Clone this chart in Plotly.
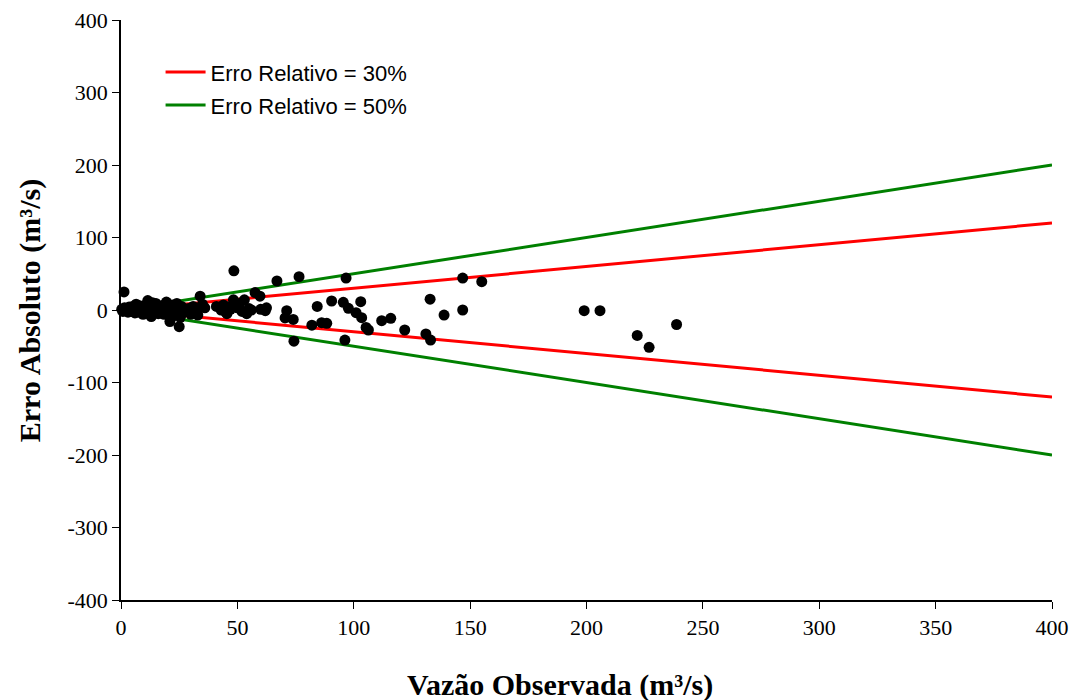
import plotly.graph_objects as go

vazao = [0.3, 0.8, 1.3, 1.5, 2, 2.5, 3, 3.5, 4, 4.5, 5, 5.5, 6, 6.5, 7, 7.5, 8, 8.5, 9, 9.5,
         10, 10.5, 11, 11.5, 12, 12.5, 13, 13.5, 14, 14.5, 15, 15.5, 16, 16.5, 17, 17.5, 18, 18.5,
         19, 19.5, 20, 20.5, 21, 21.5, 22, 22.5, 23, 23.5, 24, 24.5, 25, 25.5, 26, 27, 28, 29,
         30, 31, 32, 33, 34, 35, 36,
         41, 43, 44, 45, 45.5, 46, 47, 48.3, 48.5, 49, 50, 51, 52, 53, 54, 55, 56, 57.6, 59.7, 60, 62, 62.5,
         67, 70.5, 71.2, 74, 74.3, 76.5, 82, 84.3, 86.2, 88.4, 90.5, 95.5, 96.2, 96.7, 97.7, 101,
         103, 103.4, 105.3, 106.3, 112, 115.9, 121.9, 131, 132.8, 133, 138.8, 146.8, 146.8, 155,
         199, 205.8, 221.8, 226.9, 238.7]
erro = [1, -2, 25, 3, -1, 2, -3, 4, 0, -2, 5, 1, -4, 8, 2, -3, 6, -1, 3, -6,
        2, -4, 8, 13, 4, -2, -9, 10, 5, -3, 9, 1, -5, 3, -2, 6, -1, -6,
        2, 11, -4, 4, -16, -2, 7, -8, 1, -5, 9, 3, -23, -10, 5, -3, -2, 2,
        -6, 5, -1, -7, 19, 8, 3,
        5, 0, 7, -3, -5, 4, 1, 14, 54, 9, 3, 9, -2, 14, -5, 2, 0, 24, 19, 1, -1, 3,
        40, -11, -1, -13, -43, 46, -21, 5, -17.5, -18.4, 12.4, 10.6, -41.4, 44, 2.3, -3.7,
        11.5, -10.6, -24, -27.6, -14.7, -11.5, -27.6, -33, 15, -41.4, -7, 0, 44, 39,
        -1, -1, -35, -51.5, -20]

# Relative error envelopes
x_env = [0, 400]
rel30 = 0.30
rel50 = 0.50

x_ticks = [0, 50, 100, 150, 200, 250, 300, 350, 400]
y_ticks = [-400, -300, -200, -100, 0, 100, 200, 300, 400]

fig = go.Figure()

fig.add_trace(go.Scatter(x=x_env, y=[v * rel30 for v in x_env], mode="lines",
                         line=dict(color="#ff0000", width=3),
                         name="Erro Relativo = 30%", legend="legend"))
fig.add_trace(go.Scatter(x=x_env, y=[v * rel50 for v in x_env], mode="lines",
                         line=dict(color="#008000", width=3),
                         name="Erro Relativo = 50%", legend="legend2"))
fig.add_trace(go.Scatter(x=x_env, y=[-v * rel30 for v in x_env], mode="lines",
                         line=dict(color="#ff0000", width=3), showlegend=False))
fig.add_trace(go.Scatter(x=x_env, y=[-v * rel50 for v in x_env], mode="lines",
                         line=dict(color="#008000", width=3), showlegend=False))
fig.add_trace(go.Scatter(x=vazao, y=erro, mode="markers",
                         marker=dict(color="black", size=11),
                         showlegend=False, cliponaxis=False))

serif = "Liberation Serif"
sans = "Liberation Sans"
leg_common = dict(x=0.0425, xanchor="left", yanchor="middle",
                  font=dict(family=sans, size=22, color="black"),
                  bgcolor="rgba(0,0,0,0)", itemwidth=40)

fig.update_layout(
    width=1077, height=700,
    margin=dict(l=113, r=33, t=12, b=108),
    paper_bgcolor="white", plot_bgcolor="white",
    showlegend=True,
    legend=dict(y=0.910, **leg_common),
    legend2=dict(y=0.853, **leg_common),
    xaxis=dict(range=[0, 400], tickvals=x_ticks, ticktext=[str(v) for v in x_ticks],
               showgrid=False, zeroline=False, showline=True, linecolor="black", linewidth=1.5,
               ticks="outside", ticklen=7, tickcolor="black", automargin=False,
               ticklabeloverflow="allow",
               tickfont=dict(family=serif, size=22, color="black")),
    yaxis=dict(range=[-400, 400], tickvals=y_ticks, ticktext=[str(v) for v in y_ticks],
               showgrid=False, zeroline=False, showline=True, linecolor="black", linewidth=1.5,
               ticks="outside", ticklen=7, tickcolor="black", automargin=False,
               ticklabeloverflow="allow",
               tickfont=dict(family=serif, size=22, color="black")),
    annotations=[
        dict(text="<b>Vazão Observada (m³/s)</b>", xref="paper", yref="paper",
             x=0.4715, y=-0.1466, xanchor="center", yanchor="middle", showarrow=False,
             font=dict(family=serif, size=30, color="black")),
        dict(text="<b>Erro Absoluto (m³/s)</b>", xref="paper", yref="paper",
             x=-0.0977, y=0.498, xanchor="center", yanchor="middle", showarrow=False,
             textangle=-90, font=dict(family=serif, size=30, color="black")),
    ],
)

fig.write_html("out.html")
